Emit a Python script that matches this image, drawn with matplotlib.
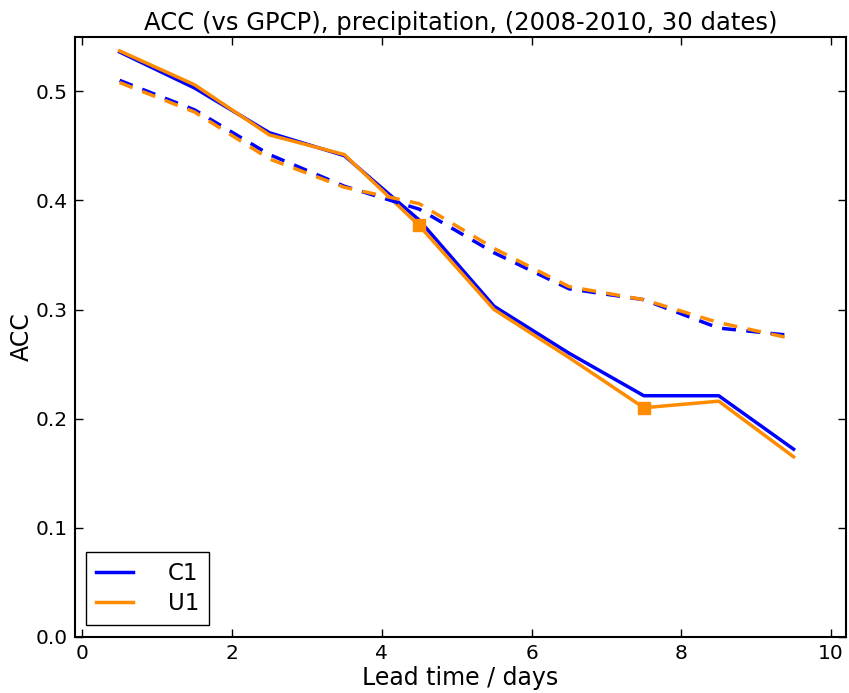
"""
ACC against GPCP for precipitation, two model configurations C1 and U1.
"""
import matplotlib
matplotlib.use('Agg')
from matplotlib import pyplot as plt

# lead time (days)
lead = [0.5, 1.5, 2.5, 3.5, 4.5, 5.5, 6.5, 7.5, 8.5, 9.5]

# solid lines
c1_solid = [0.536, 0.503, 0.462, 0.441, 0.382, 0.303, 0.260, 0.221, 0.221, 0.172]
u1_solid = [0.537, 0.506, 0.460, 0.442, 0.377, 0.300, 0.256, 0.210, 0.216, 0.165]

# dashed lines
c1_dash = [0.510, 0.483, 0.442, 0.413, 0.392, 0.352, 0.319, 0.309, 0.283, 0.276]
u1_dash = [0.508, 0.481, 0.438, 0.412, 0.397, 0.356, 0.321, 0.309, 0.288, 0.273]

# points marked as significant on U1
sig_lead = [4.5, 7.5]
sig_val = [0.377, 0.210]

fig = plt.figure(figsize=(8.49, 6.93), dpi=100)
ax = fig.add_axes([0.088, 0.081, 0.9085, 0.866])

ax.plot(lead, c1_solid, color='blue', lw=2.5, label='C1')
ax.plot(lead, u1_solid, color='darkorange', lw=2.5, label='U1')
ax.plot(lead, c1_dash, color='blue', lw=2.5, ls='--', dashes=(4, 3))
ax.plot(lead, u1_dash, color='darkorange', lw=2.5, ls='--', dashes=(4, 3))
ax.plot(sig_lead, sig_val, ls='none', marker='s', ms=9, color='darkorange')

ax.set_xlim(-0.1, 10.2)
ax.set_ylim(0, 0.55)
ax.set_xticks([0, 2, 4, 6, 8, 10])
ax.set_yticks([0.0, 0.1, 0.2, 0.3, 0.4, 0.5])
ax.tick_params(direction='in', top=True, right=True, labelsize=14.5,
               length=6, width=1.0, pad=5)
for s in ax.spines.values():
    s.set_linewidth(1.5)

ax.set_xlabel('Lead time / days', fontsize=17, labelpad=2)
ax.set_ylabel('ACC', fontsize=17, labelpad=1)
ax.set_title('ACC (vs GPCP), precipitation, (2008-2010, 30 dates)',
             fontsize=17.5, pad=5)

leg = ax.legend(loc='lower left', fontsize=16.5, fancybox=False,
                framealpha=1, edgecolor='black', handlelength=1.6,
                handletextpad=1.5, borderpad=0.45, labelspacing=0.3,
                borderaxespad=0.5)
leg.get_frame().set_linewidth(1.0)

fig.savefig('out.png', dpi=100)
